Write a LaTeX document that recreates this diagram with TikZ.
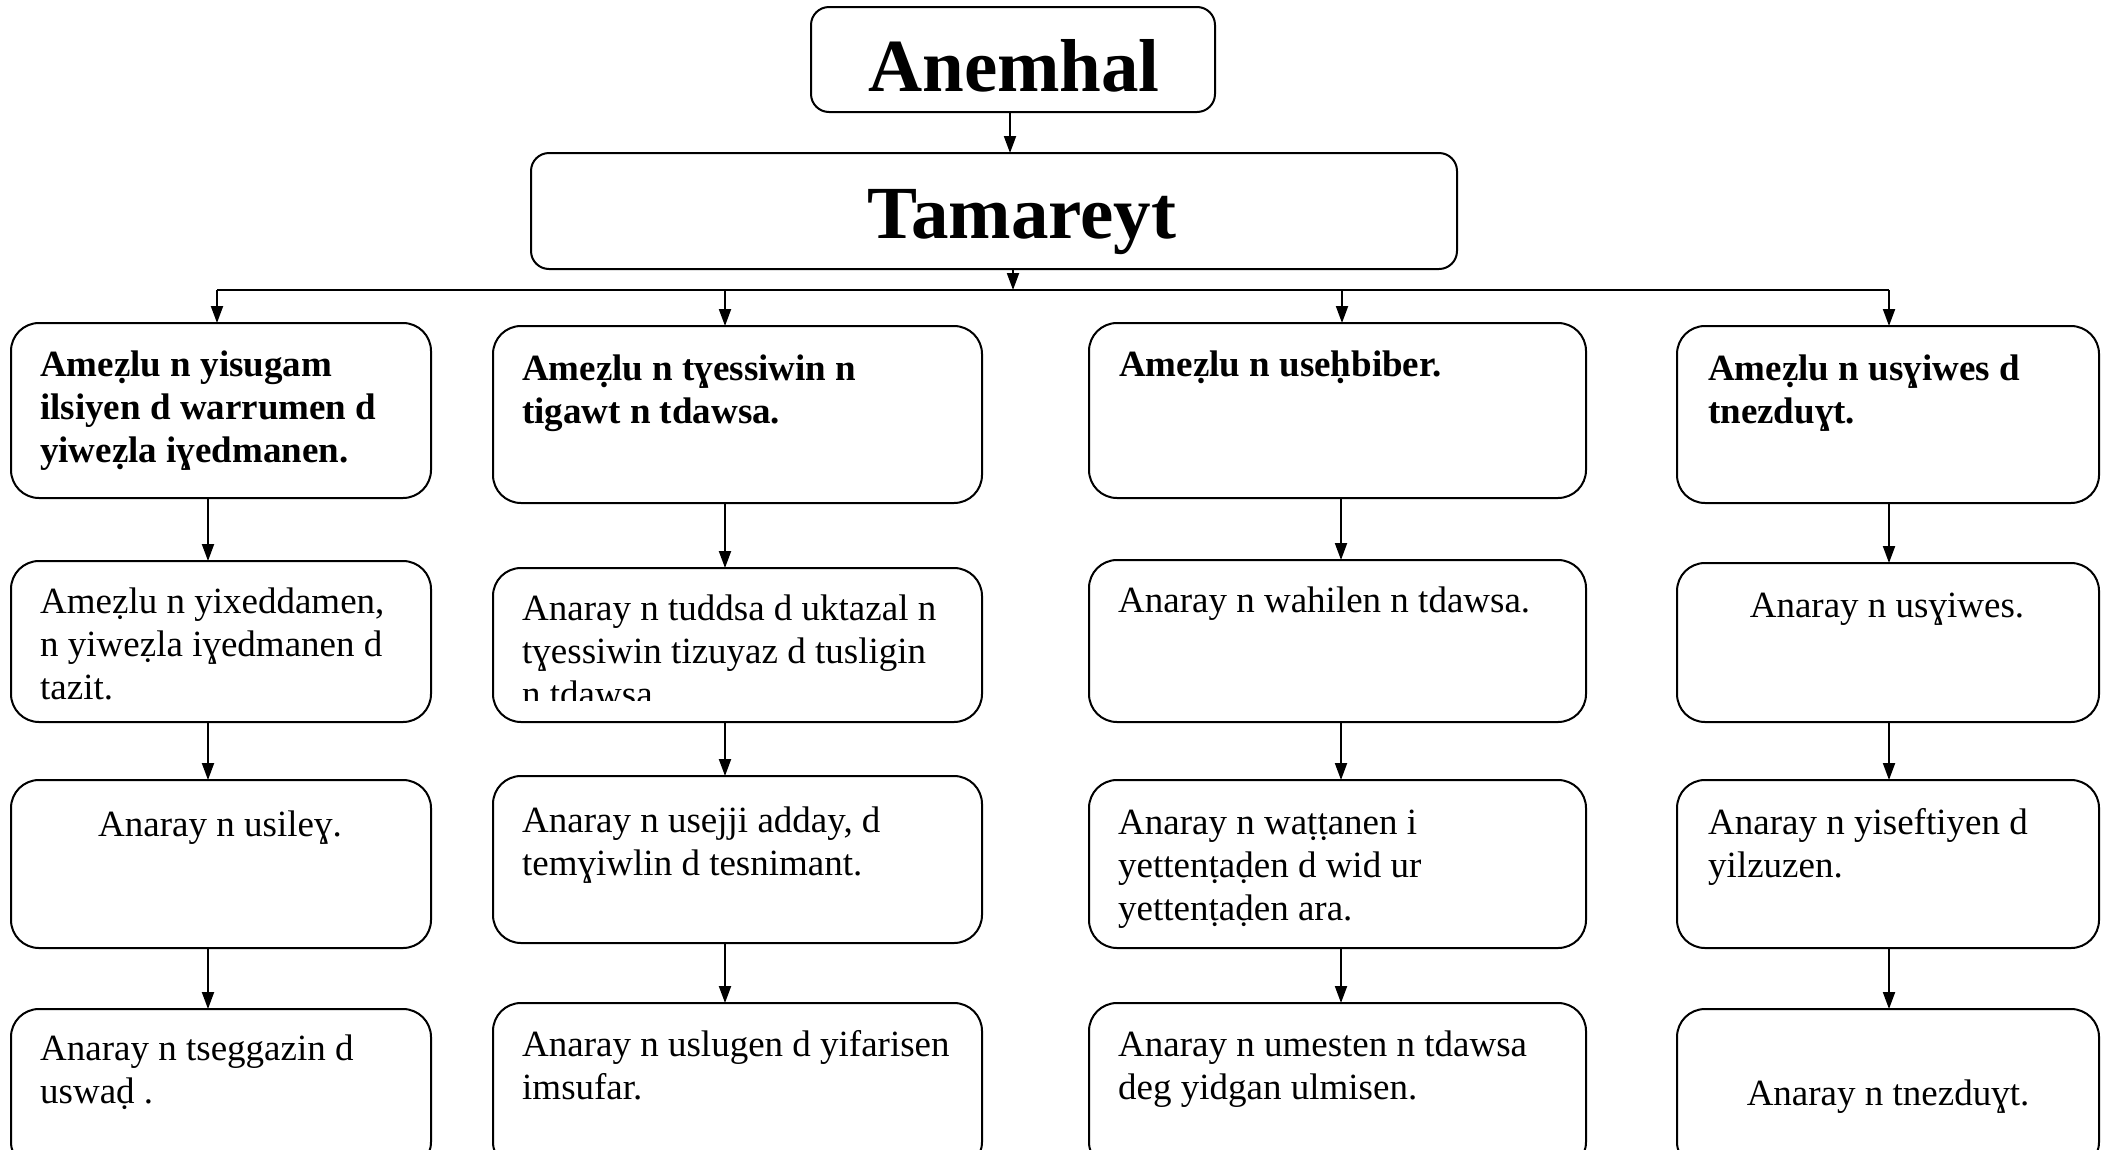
\documentclass[tikz,border=0pt]{standalone}
\usepackage{fontspec}
\setmainfont{Liberation Serif}
\usetikzlibrary{arrows.meta}

\begin{document}
\begin{tikzpicture}[x=1pt,y=-1pt,
  box/.style={draw, line width=2pt, rounded corners=28pt, inner sep=0pt, outer sep=0pt},
  topbox/.style={box, rounded corners=18pt},
  arr/.style={line width=2pt, -{Triangle[length=17pt,width=12pt]}},
  plain/.style={line width=2pt},
  txt/.style={inner sep=0pt, anchor=north west, align=left, text width=#1,
    font=\fontsize{37}{43}\selectfont,
    execute at begin node={\spaceskip=0pt\xspaceskip=0pt\relax}},
  txt/.default=470pt,
  btxt/.style={txt=#1, font=\fontsize{37}{43}\selectfont\bfseries},
  btxt/.default=470pt,
  ctxt/.style={inner sep=0pt, anchor=north, align=center,
    font=\fontsize{37}{43}\selectfont},
  title/.style={inner sep=0pt, anchor=base, font=\fontsize{75}{80}\selectfont\bfseries}
]
\useasboundingbox (0,0) rectangle (2109,1149);
\clip (0,0) rectangle (2109,1149);

% header boxes
\node[topbox, minimum width=404pt, minimum height=105pt] (anemhal) at (1013,59.5) {};
\node[title] (anemhalT) at (1014,91) {Anemhal};
\node[topbox, minimum width=926pt, minimum height=116pt] (tamareyt) at (994,211) {};
\node[title] (tamareytT) at (1022,238) {Tamareyt};

% row 1
\node[box, minimum width=420pt, minimum height=175pt] (r1c1) at (221,410.5) {};
\node[box, minimum width=489pt, minimum height=177pt] (r1c2) at (737.5,414.5) {};
\node[box, minimum width=497pt, minimum height=175pt] (r1c3) at (1337.5,410.5) {};
\node[box, minimum width=422pt, minimum height=177pt] (r1c4) at (1888,414.5) {};
% row 2
\node[box, minimum width=420pt, minimum height=161pt] (r2c1) at (221,641.5) {};
\node[box, minimum width=489pt, minimum height=154pt] (r2c2) at (737.5,645) {};
\node[box, minimum width=497pt, minimum height=162pt] (r2c3) at (1337.5,641) {};
\node[box, minimum width=422pt, minimum height=159pt] (r2c4) at (1888,642.5) {};
% row 3
\node[box, minimum width=420pt, minimum height=168pt] (r3c1) at (221,864) {};
\node[box, minimum width=489pt, minimum height=167pt] (r3c2) at (737.5,859.5) {};
\node[box, minimum width=497pt, minimum height=168pt] (r3c3) at (1337.5,864) {};
\node[box, minimum width=422pt, minimum height=168pt] (r3c4) at (1888,864) {};
% row 4 (runs past the lower edge)
\node[box, minimum width=420pt, minimum height=161pt] (r4c1) at (221,1089.5) {};
\node[box, minimum width=489pt, minimum height=167pt] (r4c2) at (737.5,1086.5) {};
\node[box, minimum width=497pt, minimum height=167pt] (r4c3) at (1337.5,1086.5) {};
\node[box, minimum width=422pt, minimum height=161pt] (r4c4) at (1888,1089.5) {};

% texts
\node[btxt] (t11) at (40,346) {\strut Ameẓlu n yisugam\\ilsiyen d warrumen d\\yiweẓla iɣedmanen.};
\node[btxt] (t12) at (522,350) {\strut Ameẓlu n tɣessiwin n\\tigawt n tdawsa.};
\node[btxt] (t13) at (1119,346) {\strut Ameẓlu n useḥbiber.};
\node[btxt] (t14) at (1708,350) {\strut Ameẓlu n usɣiwes d\\tnezduɣt.};

\node[txt] (t21) at (40,583) {\strut Ameẓlu n yixeddamen,\\n yiweẓla iɣedmanen d\\tazit.};
\begin{scope}
  \clip (493,560) rectangle (982,700);
  \node[txt] (t22) at (522,590) {\strut Anaray n tuddsa d uktazal n\\tɣessiwin tizuyaz d tusligin\\n tdawsa.};
\end{scope}
\node[txt] (t23) at (1118,582) {\strut Anaray n wahilen n tdawsa.};
\node[ctxt] (t24) at (1887,587) {\strut Anaray n usɣiwes.};

\node[ctxt] (t31) at (220,806) {\strut Anaray n usileɣ.};
\node[txt] (t32) at (522,802) {\strut Anaray n usejji adday, d\\temɣiwlin d tesnimant.};
\node[txt] (t33) at (1118,804) {\strut Anaray n waṭṭanen i\\yettenṭaḍen d wid ur\\yettenṭaḍen ara.};
\node[txt] (t34) at (1708,804) {\strut Anaray n yiseftiyen d\\yilzuzen.};

\node[txt] (t41) at (40,1030) {\strut Anaray n tseggazin d\\uswaḍ .};
\node[txt] (t42) at (522,1026) {\strut Anaray n uslugen d yifarisen\\imsufar.};
\node[txt] (t43) at (1118,1026) {\strut Anaray n umesten n tdawsa\\deg yidgan ulmisen.};
\node[ctxt] (t44) at (1888,1075) {\strut Anaray n tnezduɣt.};

% connectors
\coordinate (hub) at (1013,290);
\coordinate (k1) at (217,290);
\coordinate (k2) at (725,290);
\coordinate (k3) at (1342,290);
\coordinate (k4) at (1889,290);
\coordinate (c1) at (208,0);
\coordinate (c2) at (725,0);
\coordinate (c3) at (1341,0);
\coordinate (c4) at (1889,0);

\draw[arr] (anemhal.south -| 1010,0) -- (tamareyt.north -| 1010,0);
\draw[arr] (tamareyt.south -| hub) -- (hub);
\draw[plain] (k1) -- (k4);
\draw[arr] (k1) -- (k1 |- r1c1.north);
\draw[arr] (k2) -- (k2 |- r1c2.north);
\draw[arr] (k3) -- (k3 |- r1c3.north);
\draw[arr] (k4) -- (k4 |- r1c4.north);

\foreach \col/\k in {1/c1,2/c2,3/c3,4/c4}{
  \draw[arr] (r1c\col.south -| \k) -- (r2c\col.north -| \k);
  \draw[arr] (r2c\col.south -| \k) -- (r3c\col.north -| \k);
  \draw[arr] (r3c\col.south -| \k) -- (r4c\col.north -| \k);
}
\end{tikzpicture}
\end{document}
